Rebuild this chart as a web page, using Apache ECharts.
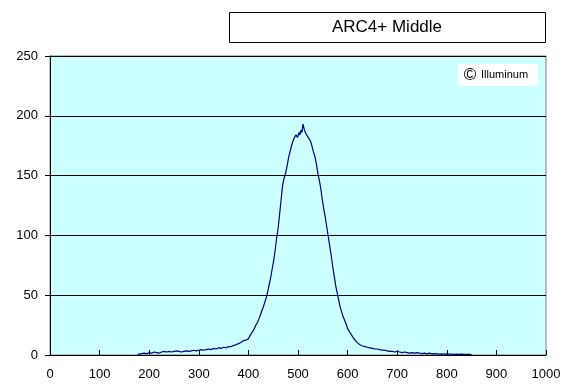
<!DOCTYPE html>
<html><head><meta charset="utf-8">
<script src="https://cdn.jsdelivr.net/npm/echarts@6/dist/echarts.min.js"></script>
<style>html,body{margin:0;padding:0;background:#fff}#c{width:568px;height:390px}</style>
</head><body><div id="c"></div>
<script>
const chartTitle = "ARC4+ Middle";
const watermarkSymbol = "\u00A9";
const watermarkText = "Illuminum";
const xTicks = [0,100,200,300,400,500,600,700,800,900,1000];
const yTicks = [0,50,100,150,200,250];

const xsLeftTail = [177,182,186,190,195,200,205,210,215,220, 225,230,235,240,245,250,255,260,265,270, 275,280,285,290,295,300,305,310,315,320, 325,330,335,340,345,350,355,360,365,370, 375,380,385,390,395,400];
const ysLeftTail = [0.5,1,0.8,1.5,1,2,1.5,2.5,2,1.5, 2.5,3,2.5,3,2.5,3,3.5,3,2.5,3, 3.5,3,3.5,4,3.5,4,4.5,4,4.5,5, 4.5,5.5,5,6,5.5,6.5,6,7,7,8, 8.5,9.5,10.5,12,12.5,13.5];

const xsRise = [403,406,409,412,415,418,421,424,427,430, 433,436,439,442,445,448,451,454,457,460, 463,466,469,472,475,478,481,484,487,490, 493,496,499];
const ysRise = [16,18,20,22,25,27,30,33,37,40, 44,48,53,59,65,72,79,88,98,106, 118,130,142,148,152,158,165,170,175,179, 182,184,182];

const xsFall = [502,504,506,508,510,513,516,519,522,525, 528,531,534,537,540,543,546,549,552,555, 558,561,564,567,570,573,576,579,582,585, 588,591,594,597,600,603,606,609,612,615, 618,621];
const ysFall = [186,184,188,186,193,188,185,183,181,179, 175,170,166,160,152,146,139,130,122,115, 107,99,91,83,74,66,58,52,46,40, 36,32,29,26,22,20,18,16,14,12.5, 11,10];

const xsRightTail = [625,630,635,640,645,650,655,660,665,670, 675,680,685,690,695,700,705,710,715,720, 725,730,735,740,745,750,755,760,765,770, 775,780,785,790,795,800,805,810,815,820, 825,830,835,840,845,850];
const ysRightTail = [8.5,7.5,7,6.5,6,5.5,5,5,4.5,4, 4,3.5,3,3,2.5,3,2.5,2,2.5,2, 1.5,2,1.5,2,1.5,1.2,1.5,1,1.5,1, 1.2,1,0.8,1,0.8,1,0.7,0.8,0.6,0.7, 0.5,0.7,0.5,0.6,0.5,0.4];

const xs = [].concat(xsLeftTail, xsRise, xsFall, xsRightTail);
const ys = [].concat(ysLeftTail, ysRise, ysFall, ysRightTail);
const pts = xs.map((x,i)=>[x, ys[i]]);

const chart = echarts.init(document.getElementById('c'), null, {renderer:'canvas'});
const fontFam = "'Liberation Sans',Arial,sans-serif";
chart.setOption({
  animation:false,
  backgroundColor:'#ffffff',
  grid:{left:50,right:22,top:56,bottom:35,show:true,backgroundColor:'#CCFFFF',borderColor:'#808080',borderWidth:1},
  xAxis:{type:'value',min:xTicks[0],max:xTicks[xTicks.length-1],interval:100,
    axisLine:{show:true,lineStyle:{color:'#000',width:1}},
    axisTick:{show:true,inside:true,length:5,lineStyle:{color:'#000'}},
    splitLine:{show:false},
    axisLabel:{color:'#000',fontSize:13,fontFamily:fontFam,margin:13,formatter:v=>String(v)}},
  yAxis:{type:'value',min:yTicks[0],max:yTicks[yTicks.length-1],interval:50,
    axisLine:{show:true,lineStyle:{color:'#000',width:1}},
    axisTick:{show:true,inside:false,length:5,lineStyle:{color:'#000'}},
    splitLine:{show:true,lineStyle:{color:'#000',width:1}},
    axisLabel:{color:'#000',fontSize:13,fontFamily:fontFam,margin:12,formatter:v=>String(v)}},
  series:[{type:'line',data:pts,showSymbol:false,symbol:'none',
    lineStyle:{color:'#000080',width:1.2},z:5}],
  graphic:[
    {type:'rect',left:229,top:12,shape:{width:316,height:30},style:{fill:'#fff',stroke:'#000',lineWidth:1}},
    {type:'text',x:387,y:27,style:{text:chartTitle,fill:'#000',align:'center',verticalAlign:'middle',font:"17px 'Liberation Sans',sans-serif"}},
    {type:'rect',left:458,top:64,shape:{width:80,height:22},style:{fill:'#fff',stroke:null}},
    {type:'text',x:470,y:75,style:{text:watermarkSymbol,fill:'#000',align:'center',verticalAlign:'middle',font:"17px 'Liberation Sans',sans-serif"}},
    {type:'text',x:481,y:75,style:{text:watermarkText,fill:'#000',align:'left',verticalAlign:'middle',font:"11px 'Liberation Sans',sans-serif"}}
  ]
});
</script></body></html>
